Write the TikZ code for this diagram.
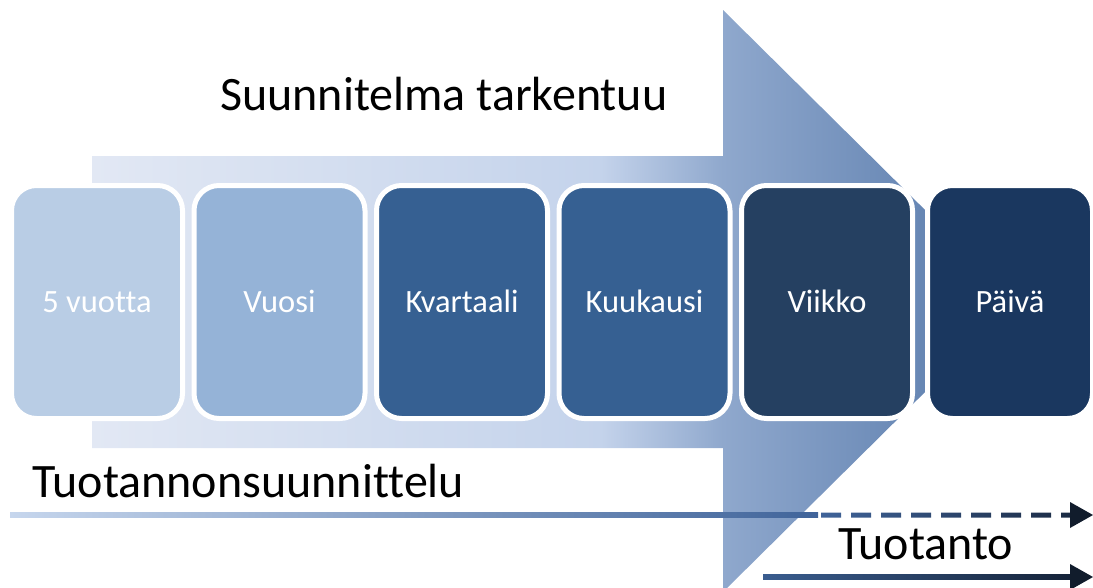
\documentclass[tikz,border=0pt]{standalone}
\usepackage{fontspec}
\setmainfont{Carlito}[Ligatures={NoCommon}]
\definecolor{ar1}{HTML}{E2E8F4}
\definecolor{ar2}{HTML}{C4D3EB}
\definecolor{ar3}{HTML}{8FA8CD}
\definecolor{ar4}{HTML}{5477A8}
\definecolor{bx1}{HTML}{B9CDE5}
\definecolor{bx2}{HTML}{95B3D7}
\definecolor{bx3}{HTML}{366092}
\definecolor{bx4}{HTML}{366092}
\definecolor{bx5}{HTML}{254061}
\definecolor{bx6}{HTML}{1A375F}
\definecolor{la}{HTML}{C6D6ED}
\definecolor{lb}{HTML}{40649A}
\definecolor{lc}{HTML}{1B2B44}
\definecolor{ld}{HTML}{3A5D8F}
\definecolor{le}{HTML}{16243A}
\definecolor{tip}{HTML}{111C2C}
\pgfdeclarehorizontalshading{bigarrow}{100bp}{color(0bp)=(ar1); color(25bp)=(ar1); color(52.5bp)=(ar2); color(59.1bp)=(ar3); color(75bp)=(ar4); color(100bp)=(ar4)}
\tikzset{
  stage/.style={rounded corners=25pt, draw=white, line width=5pt, minimum width=171pt, minimum height=233pt, inner sep=0pt, text=white},
  stagetext/.style={anchor=base, inner sep=0pt, text=white, font=\fontsize{32.5}{38}\selectfont},
  bigtext/.style={anchor=base west, inner sep=0pt, font=\fontsize{48}{56}\selectfont, text=black},
  tiphead/.style={fill=tip, draw=none}
}
\begin{document}
\begin{tikzpicture}[x=1pt, y=-1pt]
\useasboundingbox (0,0) rectangle (1093,587);
% big arrow
\shade[shading=bigarrow] (92,156) -- (723,156) -- (723,10) -- (1017,301) -- (723,592) -- (723,448) -- (92,448) -- cycle;
% stages
\node[stage, fill=bx1] (s1) at (97,302) {};
\node[stage, fill=bx2] (s2) at (279.5,302) {};
\node[stage, fill=bx3] (s3) at (462,302) {};
\node[stage, fill=bx4] (s4) at (644.5,302) {};
\node[stage, fill=bx5] (s5) at (827,302) {};
\node[stage, fill=bx6, minimum width=165pt] (s6) at (1010,302) {};
\foreach \n/\t in {s1/5 vuotta, s2/Vuosi, s3/Kvartaali, s4/Kuukausi, s5/Viikko, s6/Päivä}
  \node[stagetext] (\n-label) at ([yshift=-10pt]\n.center) {\t};
% texts
\node[bigtext] (t1) at (220,110) {Suunnitelma tarkentuu};
\node[bigtext] (t2) at (32,497) {Tuotannonsuunnittelu};
\node[bigtext] (t3) at (838,559) {Tuotanto};
% line 1
\coordinate (p1) at (10,515);
\coordinate (p2) at (818,515);
\coordinate (p3) at (1070,515);
\coordinate (p4) at (1093,515);
\shade[left color=la, right color=lb] ([yshift=-2.5pt]p1) rectangle ([yshift=2.5pt]p2);
\begin{scope}
\clip \foreach \i in {0,...,8} {(821+30*\i,512.5) rectangle ++(20,5)};
\shade[left color=lb, right color=lc] ([yshift=-2.5pt]p2) rectangle ([yshift=2.5pt]p3);
\end{scope}
\fill[tiphead] ([yshift=-13pt]p3) -- (p4) -- ([yshift=13pt]p3) -- cycle;
% line 2
\coordinate (q1) at (763,577);
\coordinate (q2) at (1070,577);
\coordinate (q3) at (1093,577);
\shade[left color=ld, right color=le] ([yshift=-2.5pt]q1) rectangle ([yshift=2.5pt]q2);
\fill[tiphead] ([yshift=-13pt]q2) -- (q3) -- ([yshift=13pt]q2) -- cycle;
\end{tikzpicture}
\end{document}
